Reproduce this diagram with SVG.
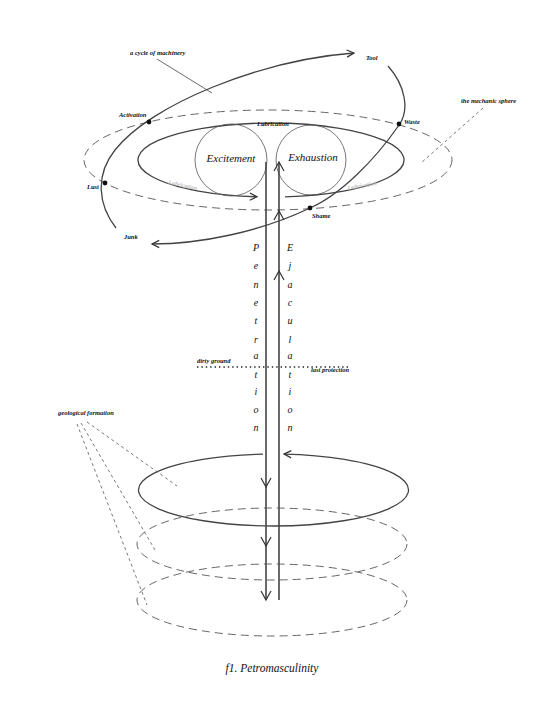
<svg xmlns="http://www.w3.org/2000/svg" width="547" height="709" viewBox="0 0 547 709">
<style>
text{font-family:"Liberation Serif","DejaVu Serif",serif;font-style:italic;fill:#111}
.sm{font-size:6.5px;font-weight:bold}
.big{font-size:11px}
.let{font-size:10px;text-anchor:middle}
.faded{font-size:6px;fill:#bbb;font-weight:bold}
.solid{fill:none;stroke:#444;stroke-width:1.3}
.thin{fill:none;stroke:#555;stroke-width:0.8}
.dash{fill:none;stroke:#555;stroke-width:0.9;stroke-dasharray:8 5}
.lead{fill:none;stroke:#555;stroke-width:0.8;stroke-dasharray:3 3}
.shaft{fill:none;stroke:#444;stroke-width:1.6}
.chev{fill:none;stroke:#333;stroke-width:1.2}
</style>
<defs>
<marker id="arr" markerUnits="userSpaceOnUse" markerWidth="12" markerHeight="12" viewBox="-8 -5 10 10" refX="0" refY="0" orient="auto">
<path d="M-6,-3 L0,0 L-6,3" fill="none" stroke="#333" stroke-width="1"/>
</marker>
<path id="chev" d="M-5,-9 L0,0 L5,-9" class="chev"/>
</defs>
<rect width="547" height="709" fill="#fff"/>

<g id="mechanic-sphere">
<ellipse class="dash" cx="268" cy="160" rx="184" ry="50"/>
<line class="lead" x1="483" y1="108" x2="421" y2="163"/>
<text class="sm" x="461" y="103">the mechanic sphere</text>
</g>

<g id="lubrication-loop">
<path class="solid" d="M285,196.8 A133,37 0 1 0 257,196.8" marker-end="url(#arr)"/>
<text class="sm" x="257" y="126">Lubrication</text>
<text class="faded" transform="translate(168,184) rotate(12)">Lubrication</text>
<text class="faded" transform="translate(348,190) rotate(-10)">Lubrication</text>
</g>

<g id="excitement">
<circle class="thin" cx="231" cy="160" r="36"/>
<text class="big" x="231" y="162" text-anchor="middle">Excitement</text>
</g>
<g id="exhaustion">
<circle class="thin" cx="311" cy="160" r="35"/>
<text class="big" x="313" y="161" text-anchor="middle">Exhaustion</text>
</g>

<g id="cycle-of-machinery">
<path class="solid" stroke="#333" d="M116,228 C98,205 95,175 115,150 C150,105 260,60 354,53" marker-end="url(#arr)"/>
<path class="solid" stroke="#333" d="M388,66 C405,85 410,110 399,125 C375,160 340,195 310,208 C260,232 200,244 152,244" marker-end="url(#arr)"/>
<line x1="157" y1="59" x2="212" y2="93" stroke="#444" stroke-width="0.8"/>
<text class="sm" x="130" y="55">a cycle of machinery</text>
</g>

<g id="activation"><circle cx="149" cy="122" r="2.4" fill="#111"/><text class="sm" x="119" y="117">Activation</text></g>
<g id="lust"><circle cx="105" cy="183" r="2.4" fill="#111"/><text class="sm" x="87" y="189">Lust</text></g>
<g id="junk"><text class="sm" x="124" y="239">Junk</text></g>
<g id="tool"><text class="sm" x="366" y="60">Tool</text></g>
<g id="waste"><circle cx="399" cy="124" r="2.4" fill="#111"/><text class="sm" x="404" y="124">Waste</text></g>
<g id="shame"><circle cx="310" cy="208" r="2.4" fill="#111"/><text class="sm" x="312" y="218">Shame</text></g>

<g id="connectors">
<line class="shaft" x1="266" y1="162" x2="266" y2="600"/>
<use href="#chev" transform="translate(266,487)"/>
<use href="#chev" transform="translate(266,546)"/>
<use href="#chev" transform="translate(266,600)"/>
<line class="shaft" x1="279" y1="600" x2="279" y2="162"/>
<use href="#chev" transform="translate(279,162) rotate(180)"/>
<use href="#chev" transform="translate(279,211) rotate(180)"/>
<use href="#chev" transform="translate(279,271) rotate(180)"/>
</g>

<g id="penetration">
<text class="let" x="256" y="251">P</text>
<text class="let" x="256" y="269">e</text>
<text class="let" x="256" y="288">n</text>
<text class="let" x="256" y="306">e</text>
<text class="let" x="256" y="324">t</text>
<text class="let" x="256" y="343">r</text>
<text class="let" x="256" y="359">a</text>
<text class="let" x="256" y="378">t</text>
<text class="let" x="256" y="395">i</text>
<text class="let" x="256" y="413">o</text>
<text class="let" x="256" y="431">n</text>
</g>
<g id="ejaculation">
<text class="let" x="290" y="251">E</text>
<text class="let" x="290" y="269">j</text>
<text class="let" x="290" y="288">a</text>
<text class="let" x="290" y="306">c</text>
<text class="let" x="290" y="324">u</text>
<text class="let" x="290" y="343">l</text>
<text class="let" x="290" y="359">a</text>
<text class="let" x="290" y="378">t</text>
<text class="let" x="290" y="395">i</text>
<text class="let" x="290" y="413">o</text>
<text class="let" x="290" y="431">n</text>
</g>

<g id="ground">
<line x1="197" y1="367" x2="350" y2="367" stroke="#222" stroke-width="1.5" stroke-dasharray="1.4 3"/>
<text class="sm" x="197" y="363">dirty ground</text>
<text class="sm" x="311" y="372">last protection</text>
</g>

<g id="geological-formation">
<path class="solid" d="M263,454.1 A135,36 0 1 0 284,454.1" marker-end="url(#arr)"/>
<ellipse class="dash" cx="272" cy="544" rx="135" ry="36"/>
<ellipse class="dash" cx="272" cy="600" rx="135" ry="36"/>
<line class="lead" x1="87" y1="422" x2="177" y2="486"/>
<line class="lead" x1="81" y1="423" x2="155" y2="550"/>
<line class="lead" x1="77" y1="424" x2="147" y2="605"/>
<text class="sm" x="58" y="415">geological formation</text>
</g>

<text x="272" y="672" font-size="11.5" text-anchor="middle">f1. Petromasculinity</text>
</svg>
